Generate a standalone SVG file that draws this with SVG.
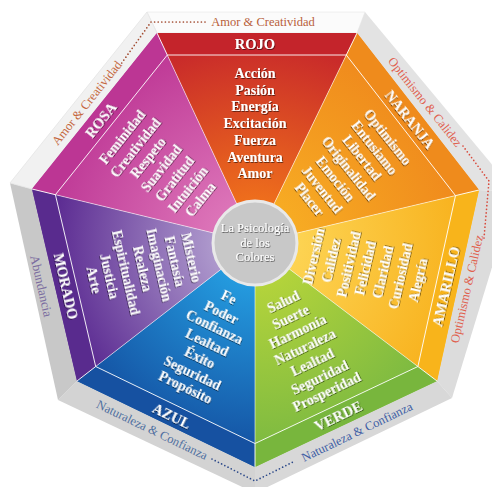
<svg xmlns="http://www.w3.org/2000/svg" width="492" height="487" viewBox="0 0 492 487">
<defs>
<style>
.t{font-family:"Liberation Serif","Times New Roman",serif;fill:#fff;text-anchor:middle;filter:url(#sh)}
.w{font-size:14px;font-weight:bold}
.h{font-size:14.5px;font-weight:bold}
.r{font-family:"Liberation Serif","Times New Roman",serif;font-size:12.5px;text-anchor:middle}
.dot{fill:none;stroke-width:1.7;stroke-linecap:round;stroke-dasharray:0 3.6}
.ln{fill:none;stroke:#fff;stroke-width:1}
</style>
<filter id="sh" x="-20%" y="-30%" width="140%" height="160%">
<feDropShadow dx="0.7" dy="0.9" stdDeviation="0.6" flood-color="#000" flood-opacity="0.6"/>
</filter>
<radialGradient id="gR" gradientUnits="userSpaceOnUse" cx="255" cy="243" r="215"><stop offset="0.2" stop-color="#ee6e1c"/><stop offset="0.93" stop-color="#c92b2a"/></radialGradient>
<radialGradient id="gN" gradientUnits="userSpaceOnUse" cx="255" cy="243" r="215"><stop offset="0.2" stop-color="#f7ab23"/><stop offset="0.93" stop-color="#f08c1d"/></radialGradient>
<radialGradient id="gA" gradientUnits="userSpaceOnUse" cx="255" cy="243" r="215"><stop offset="0.2" stop-color="#fdd352"/><stop offset="0.93" stop-color="#f8b421"/></radialGradient>
<radialGradient id="gV" gradientUnits="userSpaceOnUse" cx="255" cy="243" r="215"><stop offset="0.2" stop-color="#b3d33b"/><stop offset="0.93" stop-color="#7fbb41"/></radialGradient>
<radialGradient id="gZ" gradientUnits="userSpaceOnUse" cx="255" cy="243" r="215"><stop offset="0.2" stop-color="#249ade"/><stop offset="0.93" stop-color="#1556a6"/></radialGradient>
<radialGradient id="gM" gradientUnits="userSpaceOnUse" cx="255" cy="243" r="215"><stop offset="0.2" stop-color="#ad98cc"/><stop offset="0.93" stop-color="#5d2d93"/></radialGradient>
<radialGradient id="gS" gradientUnits="userSpaceOnUse" cx="255" cy="243" r="215"><stop offset="0.2" stop-color="#dc74b8"/><stop offset="0.93" stop-color="#c03c98"/></radialGradient>
</defs>
<rect width="492" height="487" fill="#fff"/>

<g id="rim">
<polygon points="147,12 365,12 357,33 157,33" fill="#fbfbfb" stroke="#ececec" stroke-width="0.8"/>
<polygon points="365,12 515,192 479,190 357,33" fill="#e3e3e3"/>
<polygon points="515,192 452,398 437,381 479,190" fill="#dcdcdc"/>
<polygon points="452,398 255,493 255,467 437,381" fill="#d8d8d8"/>
<polygon points="255,493 58,400 77,381 255,467" fill="#d3d3d3"/>
<polygon points="58,400 10,183 32,189 77,381" fill="#c8c8c8"/>
<polygon points="10,183 147,12 157,33 32,189" fill="#f1f1f1" stroke="#e4e4e4" stroke-width="0.8"/>
<polyline class="dot" points="205,22 151,22 121,64" stroke="#a24b30"/>
<polyline class="dot" points="463,146 489,181 484,238" stroke="#d84a3c"/>
<polyline class="dot" points="212,459 255,481 293,462" stroke="#2d4a8a"/>
<text class="r" x="263" y="26" fill="#b8603a">Amor &amp; Creatividad</text>
<text class="r" x="87" y="107" fill="#c5673e" transform="rotate(-51.43 87 103)">Amor &amp; Creatividad</text>
<text class="r" x="425" y="106" fill="#e0604e" transform="rotate(51.43 425 102)">Optimismo &amp; Calidez</text>
<text class="r" x="467" y="293" fill="#e0604e" transform="rotate(-77.14 467 289)">Optimismo &amp; Calidez</text>
<text class="r" x="152" y="434" fill="#4f6fa0" transform="rotate(25.71 152 430)">Naturaleza &amp; Confianza</text>
<text class="r" x="357" y="436" fill="#3e5ea5" transform="rotate(-25.71 357 432)">Naturaleza &amp; Confianza</text>
<text class="r" x="41" y="290" fill="#7b6c9f" transform="rotate(77.14 41 286)" style="font-size:13px">Abundancia</text>
</g>

<g id="rojo">
<polygon points="255,243 157,33 357,33" fill="url(#gR)"/>
<polygon points="157,33 357,33 346.3,55 167.3,55" fill="#c4242b"/>
</g>
<g id="naranja">
<polygon points="255,243 357,33 479,190" fill="url(#gN)"/>
<polygon points="357,33 479,190 455.5,195.6 346.3,55" fill="#ef8b1c"/>
</g>
<g id="amarillo">
<polygon points="255,243 479,190 437,381" fill="url(#gA)"/>
<polygon points="479,190 437,381 417.9,366.5 455.5,195.6" fill="#f8b41b"/>
</g>
<g id="verde">
<polygon points="255,243 437,381 255,467" fill="url(#gV)"/>
<polygon points="437,381 255,467 255,443.5 417.9,366.5" fill="#78b63d"/>
</g>
<g id="azul">
<polygon points="255,243 255,467 77,381" fill="url(#gZ)"/>
<polygon points="255,467 77,381 95.7,366.5 255,443.5" fill="#1651a1"/>
</g>
<g id="morado">
<polygon points="255,243 77,381 32,189" fill="url(#gM)"/>
<polygon points="77,381 32,189 55.4,194.7 95.7,366.5" fill="#592b8e"/>
</g>
<g id="rosa">
<polygon points="255,243 32,189 157,33" fill="url(#gS)"/>
<polygon points="32,189 157,33 167.3,55 55.4,194.7" fill="#bc3694"/>
</g>

<g id="dividers">
<polygon class="ln" points="167.3,55 346.3,55 455.5,195.6 417.9,366.5 255,443.5 95.7,366.5 55.4,194.7" stroke-opacity="0.9"/>
<path class="ln" stroke-opacity="0.9" d="M157,33L167.3,55M357,33L346.3,55M479,190L455.5,195.6M437,381L417.9,366.5M255,467L255,443.5M77,381L95.7,366.5M32,189L55.4,194.7"/>
<path class="ln" stroke-opacity="0.55" d="M167.3,55L255,243M346.3,55L255,243M455.5,195.6L255,243M417.9,366.5L255,243M255,443.5L255,243M95.7,366.5L255,243M55.4,194.7L255,243"/>
</g>

<g id="labels-rojo">
<text class="t h" x="255" y="49">ROJO</text>
<text class="t w" x="255" y="78"><tspan x="255">Acción</tspan><tspan x="255" dy="16.7">Pasión</tspan><tspan x="255" dy="16.7">Energía</tspan><tspan x="255" dy="16.7">Excitación</tspan><tspan x="255" dy="16.7">Fuerza</tspan><tspan x="255" dy="16.7">Aventura</tspan><tspan x="255" dy="16.7">Amor</tspan></text>
</g>
<g id="labels-naranja" transform="rotate(51.43 255 243)">
<text class="t h" x="255" y="50">NARANJA</text>
<text class="t w" x="255" y="78"><tspan x="255">Optimismo</tspan><tspan x="255" dy="16.7">Entusiamo</tspan><tspan x="255" dy="16.7">Libertad</tspan><tspan x="255" dy="16.7">Originalidad</tspan><tspan x="255" dy="16.7">Emoción</tspan><tspan x="255" dy="16.7">Juventud</tspan><tspan x="255" dy="16.7">Placer</tspan></text>
</g>
<g id="labels-rosa" transform="rotate(-51.43 255 243)">
<text class="t h" x="255" y="51">ROSA</text>
<text class="t w" x="255" y="78"><tspan x="255">Feminidad</tspan><tspan x="255" dy="16.7">Creatividad</tspan><tspan x="255" dy="16.7">Respeto</tspan><tspan x="255" dy="16.7">Suavidad</tspan><tspan x="255" dy="16.7">Gratitud</tspan><tspan x="255" dy="16.7">Intuición</tspan><tspan x="255" dy="16.7">Calma</tspan></text>
</g>
<g id="labels-amarillo" transform="rotate(-77.14 255 243)">
<text class="t h" x="255" y="444">AMARILLO</text>
<text class="t w" x="255" y="308"><tspan x="255">Diversión</tspan><tspan x="255" dy="17.8">Calidez</tspan><tspan x="255" dy="17.8">Positividad</tspan><tspan x="255" dy="17.8">Felicidad</tspan><tspan x="255" dy="17.8">Claridad</tspan><tspan x="255" dy="17.8">Curiosidad</tspan><tspan x="255" dy="17.8">Alegría</tspan></text>
</g>
<g id="labels-verde" transform="rotate(-25.71 255 243)">
<text class="t h" x="255" y="440">VERDE</text>
<text class="t w" x="255" y="313"><tspan x="255">Salud</tspan><tspan x="255" dy="16.7">Suerte</tspan><tspan x="255" dy="16.7">Harmonía</tspan><tspan x="255" dy="16.7">Naturaleza</tspan><tspan x="255" dy="16.7">Lealtad</tspan><tspan x="255" dy="16.7">Seguridad</tspan><tspan x="255" dy="16.7">Prosperidad</tspan></text>
</g>
<g id="labels-azul" transform="rotate(25.71 255 243)">
<text class="t h" x="255" y="440">AZUL</text>
<text class="t w" x="255" y="308"><tspan x="255">Fe</tspan><tspan x="255" dy="16.7">Poder</tspan><tspan x="255" dy="16.7">Confianza</tspan><tspan x="255" dy="16.7">Lealtad</tspan><tspan x="255" dy="16.7">Éxito</tspan><tspan x="255" dy="16.7">Seguridad</tspan><tspan x="255" dy="16.7">Propósito</tspan></text>
</g>
<g id="labels-morado" transform="rotate(77.14 255 243)">
<text class="t h" x="255" y="442">MORADO</text>
<text class="t w" x="255" y="313"><tspan x="255">Misterio</tspan><tspan x="255" dy="16.7">Fantasía</tspan><tspan x="255" dy="16.7">Imaginación</tspan><tspan x="255" dy="16.7">Realeza</tspan><tspan x="255" dy="16.7">Espiritualidad</tspan><tspan x="255" dy="16.7">Justicia</tspan><tspan x="255" dy="16.7">Arte</tspan></text>
</g>

<g id="centro">
<circle cx="255" cy="243" r="42" fill="#c8c8c8" stroke="#e9e9e9" stroke-width="3"/>
<text class="t" style="font-size:12.5px" x="255" y="232"><tspan x="255">La Psicología</tspan><tspan x="255" dy="14.5">de los</tspan><tspan x="255" dy="14.5">Colores</tspan></text>
</g>
</svg>
